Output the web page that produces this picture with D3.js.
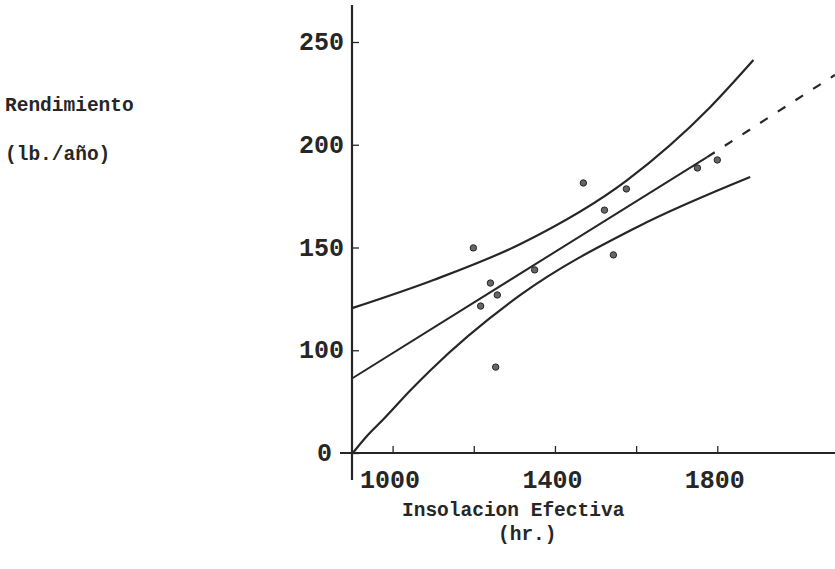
<!DOCTYPE html>
<html>
<head>
<meta charset="utf-8">
<script src="https://cdn.jsdelivr.net/npm/d3@7"></script>
<style>
  html, body { margin: 0; padding: 0; background: #fff; }
  svg { display: block; }
</style>
</head>
<body>
<svg id="chart" width="835" height="569"></svg>
<script>
// ---- Data ----
const pointX = [1199, 1217, 1241, 1258, 1254, 1350, 1470, 1522, 1544, 1576, 1751, 1800];
const pointY = [149.8, 121.5, 132.7, 126.9, 91.8, 139.1, 181.4, 168.2, 146.4, 178.5, 188.7, 192.6];

const regSolidX = [902, 1775];
const regSolidY = [86.5, 194];
const regDashX = [1775, 2090];
const regDashY = [194, 234];

const upperX = [902, 1101, 1315, 1578, 1783, 1889];
const upperY = [120.6, 134.2, 151.7, 182.8, 218.4, 241.2];

const lowerX = [902, 938, 978, 1044, 1094, 1315, 1603, 1881];
const lowerY = [50, 58.5, 66.5, 80.5, 90.4, 126.9, 160, 184.3];

const xTickValues = [1000, 1200, 1400, 1600, 1800];
const xTickLabels = ["1000", "", "1400", "", "1800"];
const yTickValues = [50, 100, 150, 200, 250];
const yTickLabels = ["0", "100", "150", "200", "250"];

const yTitle1 = "Rendimiento";
const yTitle2 = "(lb./año)";
const xTitle1 = "Insolacion Efectiva";
const xTitle2 = "(hr.)";

// ---- Drawing ----
const svg = d3.select("#chart");
const ink = "#262626";
const font = "'Liberation Mono', 'DejaVu Sans Mono', monospace";

const x = d3.scaleLinear().domain([900, 2090]).range([352, 835]);
const y = d3.scaleLinear().domain([50, 250]).range([453, 42]);

const x0 = x.range()[0];
const y0 = y.range()[0];

// axis lines
svg.append("line")
  .attr("x1", x0).attr("x2", x0)
  .attr("y1", y.range()[1] - 37).attr("y2", y0 + 27)
  .attr("stroke", ink).attr("stroke-width", 2.2);
svg.append("line")
  .attr("x1", x0 - 12).attr("x2", x.range()[1])
  .attr("y1", y0).attr("y2", y0)
  .attr("stroke", ink).attr("stroke-width", 1.8);

// x axis ticks + labels
const xAxis = d3.axisBottom(x)
  .tickValues(xTickValues)
  .tickSize(-7)
  .tickPadding(30)
  .tickFormat((d, i) => xTickLabels[i]);
const gx = svg.append("g").attr("transform", `translate(0,${y0})`).call(xAxis);
gx.select(".domain").remove();
gx.selectAll(".tick line").attr("stroke", ink).attr("stroke-width", 1.3);
gx.selectAll(".tick text")
  .attr("font-family", font).attr("font-size", 25).attr("font-weight", "bold")
  .attr("fill", ink).attr("dy", "0.2em").attr("dx", -3);

// y axis ticks + labels
const yAxis = d3.axisLeft(y)
  .tickValues(yTickValues)
  .tickSize(-7)
  .tickPadding(8)
  .tickFormat((d, i) => yTickLabels[i]);
const gy = svg.append("g").attr("transform", `translate(${x0},0)`).call(yAxis);
gy.select(".domain").remove();
gy.selectAll(".tick line").attr("stroke", ink).attr("stroke-width", 1.3);
gy.selectAll(".tick text")
  .attr("font-family", font).attr("font-size", 25).attr("font-weight", "bold")
  .attr("fill", ink)
  .attr("dy", "0.3em")
  .attr("dx", (d, i) => i === 0 ? -12 : 0);

// curves
const lineGen = d3.line().x(d => x(d[0])).y(d => y(d[1])).curve(d3.curveMonotoneX);

svg.append("path")
  .datum(upperX.map((v, i) => [v, upperY[i]]))
  .attr("d", lineGen)
  .attr("fill", "none").attr("stroke", ink).attr("stroke-width", 2.2);

svg.append("path")
  .datum(lowerX.map((v, i) => [v, lowerY[i]]))
  .attr("d", lineGen)
  .attr("fill", "none").attr("stroke", ink).attr("stroke-width", 2.2);

const straight = d3.line().x(d => x(d[0])).y(d => y(d[1]));
svg.append("path")
  .datum(regSolidX.map((v, i) => [v, regSolidY[i]]))
  .attr("d", straight)
  .attr("fill", "none").attr("stroke", ink).attr("stroke-width", 2);
svg.append("path")
  .datum(regDashX.map((v, i) => [v, regDashY[i]]))
  .attr("d", straight)
  .attr("fill", "none").attr("stroke", ink).attr("stroke-width", 2.2)
  .attr("stroke-dasharray", "9,12");

// points
svg.append("g").selectAll("circle")
  .data(pointX.map((v, i) => [v, pointY[i]]))
  .join("circle")
  .attr("cx", d => x(d[0])).attr("cy", d => y(d[1]))
  .attr("r", 3.2)
  .attr("fill", "#666").attr("stroke", ink).attr("stroke-width", 1);

// titles
const t = svg.append("g").attr("font-family", font).attr("fill", ink)
  .attr("font-size", 19.5).attr("font-weight", "bold");
t.append("text").attr("x", 5).attr("y", 111).text(yTitle1);
t.append("text").attr("x", 5).attr("y", 160).text(yTitle2);
t.append("text").attr("x", 402).attr("y", 516).text(xTitle1);
t.append("text").attr("x", 498).attr("y", 540).text(xTitle2);
</script>
</body>
</html>
